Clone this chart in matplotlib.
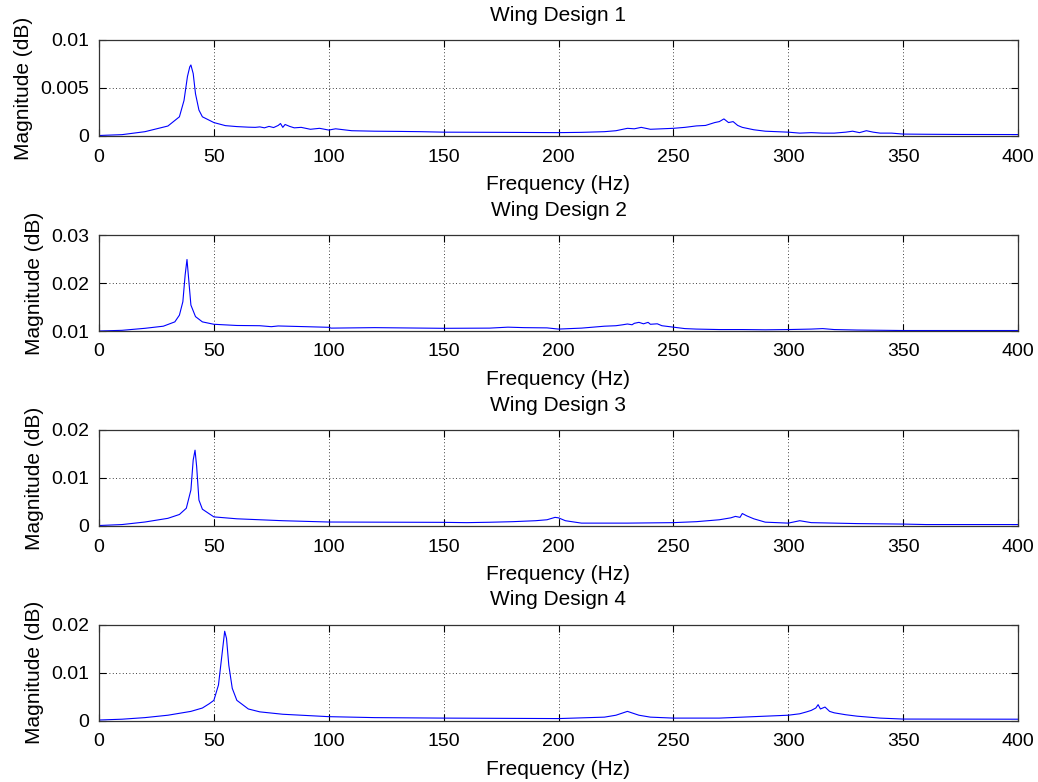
import numpy as np
import matplotlib
matplotlib.use('Agg')
import matplotlib.pyplot as plt
from matplotlib.ticker import FuncFormatter

plt.rcParams['font.family'] = ['Liberation Sans', 'DejaVu Sans']

### Spectra (frequency in Hz, magnitude) ###

freq1 = [0, 3, 10, 20, 30, 35, 37, 38.5, 39.5, 40, 41, 42, 43.5, 45, 50, 55, 60, 65, 68, 70, 72, 74, 76, 78, 79, 80,
         81, 83, 85, 88, 92, 96, 100, 103, 110, 120, 130, 140, 150, 175, 200, 210, 220, 225, 230, 233, 236, 240,
         245, 250, 255, 260, 264, 268, 270, 272, 274, 276, 278, 280, 285, 290, 300, 305, 310, 315, 320, 325, 328,
         331, 334, 337, 340, 345, 350, 360, 375, 400]
mag1 = [0.00005, 0.00008, 0.00014, 0.00045, 0.00104, 0.0020, 0.0037, 0.0062, 0.0072, 0.0074, 0.0065, 0.0044,
        0.0027, 0.0020, 0.0014, 0.00108, 0.00098, 0.00092, 0.00090, 0.00095, 0.00085, 0.0010, 0.00088, 0.0011,
        0.0013, 0.0009, 0.0012, 0.0010, 0.00085, 0.0009, 0.0007, 0.0008, 0.00062, 0.00075, 0.00055, 0.0005,
        0.00048, 0.00045, 0.0004, 0.00038, 0.00035, 0.00038, 0.00045, 0.00055, 0.0008, 0.00075, 0.0009, 0.0007,
        0.00075, 0.0008, 0.0009, 0.00105, 0.0011, 0.0014, 0.0015, 0.00178, 0.0014, 0.0015, 0.0011, 0.0009,
        0.00065, 0.0005, 0.0004, 0.0003, 0.00035, 0.0003, 0.0003, 0.0004, 0.0005, 0.00035, 0.00055, 0.0004,
        0.0003, 0.0003, 0.0002, 0.00018, 0.00016, 0.00015]

freq2 = [0, 10, 20, 28, 33, 35, 36.5, 37.5, 38.3, 39, 40, 42, 45, 50, 60, 70, 75, 78, 90, 100, 101, 120, 150,
         170, 178, 185, 195, 200, 210, 220, 225, 228, 230, 232, 233, 235, 237, 239, 240, 243, 245, 250, 255, 260,
         270, 280, 290, 300, 310, 315, 320, 330, 350, 400]
mag2 = [0.0100, 0.01014, 0.01056, 0.0110, 0.0119, 0.0133, 0.0161, 0.0217, 0.0249, 0.0210, 0.0154, 0.0130,
        0.0119, 0.0114, 0.01115, 0.0111, 0.0109, 0.01105, 0.0109, 0.01077, 0.0106, 0.0107, 0.01056, 0.0106,
        0.0108, 0.0107, 0.01065, 0.0104, 0.0106, 0.0110, 0.0111, 0.0113, 0.01146, 0.0113, 0.0116, 0.0118,
        0.0115, 0.0118, 0.0114, 0.0115, 0.0111, 0.0108, 0.0105, 0.0104, 0.0103, 0.0103, 0.01025, 0.0103,
        0.0104, 0.0105, 0.0103, 0.0102, 0.0101, 0.0101]

freq3 = [0, 10, 20, 30, 35, 38, 40, 41, 41.8, 42.5, 43.5, 45, 50, 60, 80, 100, 120, 150, 160, 170, 180, 190,
         195, 198.5, 200, 203, 210, 230, 250, 260, 270, 275, 277, 279, 280, 282, 285, 290, 300, 305, 310, 320,
         330, 350, 360, 400]
mag3 = [0.0001, 0.0003, 0.00083, 0.0016, 0.0024, 0.0037, 0.0075, 0.01375, 0.0158, 0.0124, 0.0054, 0.0035,
        0.0019, 0.0015, 0.0011, 0.00083, 0.0008, 0.00076, 0.0007, 0.00078, 0.0009, 0.0011, 0.0013, 0.0018,
        0.0017, 0.0011, 0.0006, 0.0006, 0.0007, 0.0009, 0.0013, 0.0017, 0.0020, 0.0018, 0.0026, 0.0021,
        0.0015, 0.0008, 0.0006, 0.0011, 0.0007, 0.0006, 0.0005, 0.0004, 0.0003, 0.0003]

freq4 = [0, 10, 20, 30, 40, 45, 48, 50, 52, 53.5, 54.7, 55.5, 56.5, 58, 60, 65, 70, 80, 100, 120, 150, 200,
         220, 225, 230, 235, 240, 250, 270, 290, 300, 305, 308, 310, 312, 313, 314, 316, 318, 320, 325, 330,
         340, 350, 400]
mag4 = [0.0001, 0.00027, 0.0006, 0.0011, 0.0019, 0.0026, 0.0035, 0.0042, 0.0074, 0.0136, 0.0186, 0.0171,
        0.0115, 0.0067, 0.0042, 0.0024, 0.0018, 0.0013, 0.0008, 0.0006, 0.0005, 0.0004, 0.0007, 0.0011,
        0.0019, 0.0011, 0.0007, 0.0005, 0.0005, 0.0009, 0.0011, 0.0014, 0.0018, 0.0021, 0.0026, 0.0033,
        0.0024, 0.0028, 0.0019, 0.0016, 0.0012, 0.0009, 0.0005, 0.0003, 0.00027]

titles = ['Wing Design 1', 'Wing Design 2', 'Wing Design 3', 'Wing Design 4']
ylims = [(0, 0.01), (0.01, 0.03), (0, 0.02), (0, 0.02)]
yticks = [[0, 0.005, 0.01], [0.01, 0.02, 0.03], [0, 0.01, 0.02], [0, 0.01, 0.02]]
xticks = [0, 50, 100, 150, 200, 250, 300, 350, 400]

data = [(freq1, mag1), (freq2, mag2), (freq3, mag3), (freq4, mag4)]

fig = plt.figure(figsize=(10.38, 7.82), dpi=100)

# axes boxes in figure fractions (left, bottom, width, height)
left = 99/1038
width = 919/1038
height = 96/782
bottoms = [1 - 136/782, 1 - 331/782, 1 - 526/782, 1 - 720.5/782]

fs_tick = 14
fs_lab = 15

for i in range(4):
    ax = fig.add_axes([left, bottoms[i], width, height])
    f, m = data[i]
    ax.plot(f, m, color=(0, 0, 1), linewidth=0.8)
    ax.set_xlim(0, 400)
    ax.set_ylim(ylims[i])
    ax.set_xticks(xticks)
    ax.set_yticks(yticks[i])
    ax.yaxis.set_major_formatter(FuncFormatter(lambda v, p: f'{v:g}'))
    ax.grid(True, color='black', linestyle=(0, (1, 3)), linewidth=0.6)
    ax.tick_params(direction='in', top=True, right=True, length=5, width=0.8, labelsize=fs_tick)
    ax.tick_params(axis='x', pad=9)
    ax.tick_params(axis='y', pad=7)
    for s in ax.spines.values():
        s.set_color('#333333')
        s.set_linewidth(0.9)
    ax.set_title(titles[i], fontsize=fs_lab, pad=14)
    ax.set_xlabel('Frequency (Hz)', fontsize=fs_lab, labelpad=7)
    ax.set_ylabel('Magnitude (dB)', fontsize=fs_lab, labelpad=5)

plt.savefig('out.png', dpi=100)
